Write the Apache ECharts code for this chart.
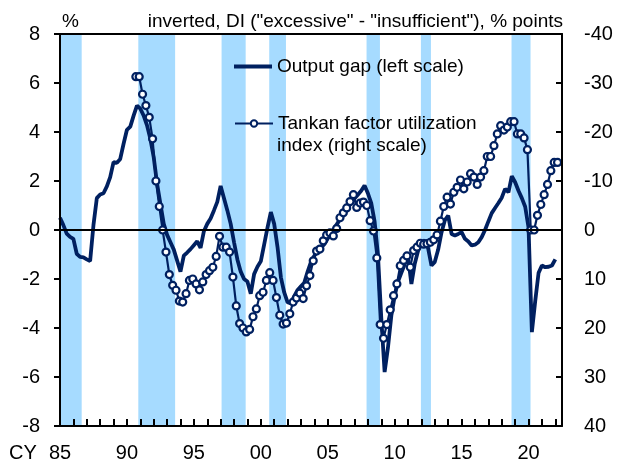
<!DOCTYPE html>
<html>
<head>
<meta charset="utf-8">
<script src="https://cdn.jsdelivr.net/npm/echarts@6/dist/echarts.min.js"></script>
<style>
  html, body { margin: 0; padding: 0; background: #fff; }
  #chart { width: 619px; height: 464px; }
</style>
</head>
<body>
<div id="chart"></div>
<script>
  // 产出缺口, 季度数据, 从 1985 Q1 开始 (%)
  var gapStart = 1985;
  var outputGap = [
    0.5, 0.2, -0.15, -0.28,
    -0.36, -0.97, -1.1, -1.12,
    -1.2, -1.27, 0.2, 1.3,
    1.45, 1.5, 1.78, 2.16,
    2.77, 2.74, 2.9, 3.52,
    4.09, 4.22, 4.67, 5.08,
    4.95, 4.67, 4.27, 3.72,
    2.97, 1.9, 1.07, 0.25,
    -0.2, -0.5, -0.8, -1.25,
    -1.7, -1.05, -0.92, -0.78,
    -0.62, -0.46, -0.73, -0.05,
    0.25, 0.47, 0.8, 1.15,
    1.8, 1.3, 0.8, 0.25,
    -0.5, -1.2, -1.7, -2.0,
    -2.1, -2.6, -1.8, -1.5,
    -1.28, -0.6, 0.1, 0.73,
    0.25, -0.7, -1.93, -2.55,
    -2.95, -3.0, -2.7, -2.45,
    -2.3, -2.15, -1.7, -1.3,
    -1.05, -0.85, -0.72, -0.58,
    -0.35, -0.12, 0.08, 0.3,
    0.48, 0.68, 0.9, 1.1,
    1.28, 1.44, 1.6, 1.82,
    1.5, 1.1, 0.35, -1.0,
    -3.6, -5.8, -4.8, -3.5,
    -2.7, -2.1, -1.75, -1.4,
    -1.1, -2.2, -1.38, -0.85,
    -0.5, -0.43, -0.75, -1.45,
    -1.3, -0.8, -0.1, 0.4,
    0.59, -0.16, -0.22, -0.16,
    -0.09, -0.36, -0.47, -0.63,
    -0.6, -0.5, -0.29, 0.0,
    0.35, 0.69, 0.9, 1.1,
    1.32, 1.68, 1.54, 2.2,
    1.95, 1.6, 1.3, 0.95,
    0.1, -4.17, -2.9, -1.75,
    -1.45, -1.52, -1.5, -1.45,
    -1.2
  ];
  // 短观 生产要素利用指数, 季度调查, 从 1990年9月 开始 (% points)
  var tankanStart = 1990 + 8 / 12;
  var tankan = [
    -31.3, -31.3,
    -27.7, -25.4, -23.0, -18.6,
    -10.0, -4.8, 0.0, 4.5,
    9.1, 11.3, 12.3, 14.5,
    14.7, 13.0, 10.3, 10.0,
    11.0, 12.2, 10.6, 9.1,
    8.3, 7.6, 5.4, 1.3,
    3.5, 3.5, 4.5, 9.6,
    15.5, 19.1, 20.0, 20.8,
    20.3, 17.7, 16.1, 13.4,
    12.7, 10.3, 8.7, 10.3,
    13.8, 17.4, 19.2, 19.0,
    17.1, 14.7, 13.9, 12.9,
    14.0, 11.4, 9.3, 6.3,
    4.3, 3.9, 2.2, 1.0,
    0.6, 1.2, -0.3, -2.5,
    -3.5, -4.5, -5.8, -7.2,
    -4.6, -5.5, -5.7, -5.0,
    -1.9, 0.2, 5.7, 19.3,
    22.1, 19.3, 16.3, 13.4,
    11.0, 7.3, 6.2, 5.3,
    7.6, 4.2, 3.5, 2.7,
    2.9, 2.8, 2.5, 2.0,
    1.0, -1.8, -4.8, -6.7,
    -5.3, -7.7, -8.7, -10.2,
    -8.4, -9.8, -11.5, -10.8,
    -9.3, -10.8, -12.1, -15.0,
    -15.0, -17.2, -19.6, -21.3,
    -20.4, -21.0, -22.1, -22.1,
    -19.6, -19.6, -18.8, -16.4,
    0.0, 0.0, -3.0, -5.2,
    -7.2, -9.3, -12.1, -13.8,
    -13.8
  ];
  // 景气衰退期 (阴影)
  var recessions = [
    [1985.0, 1986.62],
    [1990.85, 1993.6],
    [1997.07, 1998.87],
    [2000.63, 2001.88],
    [2007.9, 2008.9],
    [2011.96, 2012.71],
    [2018.73, 2020.15]
  ];
  var yearLabels = [1985, 1990, 1995, 2000, 2005, 2010, 2015, 2020];

  var navy = '#002060';
  var font = 'Liberation Sans, Arial, sans-serif';

  var gapData = outputGap.map(function (v, i) { return [gapStart + i / 4, v]; });
  var tankanData = tankan.map(function (v, i) { return [tankanStart + i / 4, v]; });
  var bandData = recessions.map(function (r) { return [{ xAxis: r[0] }, { xAxis: r[1] }]; });

  var legendText = { fontSize: 19, lineHeight: 21, color: '#000', fontFamily: font };
  var black = { color: '#000', width: 2 };
  var tickStyle = { color: '#000', width: 2 };

  var chart = echarts.init(document.getElementById('chart'));
  chart.setOption({
    animation: false,
    backgroundColor: '#fff',
    textStyle: { fontFamily: font, color: '#000' },
    grid: { left: 60, right: 57, top: 34, bottom: 38 },
    legend: [
      {
        data: ['Output gap (left scale)'],
        left: 234, top: 56, padding: 0, z: 20,
        icon: 'rect', itemWidth: 38, itemHeight: 4,
        selectedMode: false,
        textStyle: legendText
      },
      {
        data: ['Tankan factor utilization index (right scale)'],
        left: 234, top: 113, padding: 0, z: 20,
        itemWidth: 38, itemHeight: 8,
        selectedMode: false,
        formatter: function () { return 'Tankan factor utilization'; },
        textStyle: legendText
      }
    ],
    graphic: [
      { type: 'text', z: 20, x: 62, y: 22, style: { text: '%', fontSize: 19, fontFamily: font, fill: '#000', verticalAlign: 'middle' } },
      { type: 'text', z: 20, x: 563, y: 22, style: { text: 'inverted, DI ("excessive" - "insufficient"), % points', fontSize: 19, fontFamily: font, fill: '#000', align: 'right', verticalAlign: 'middle' } },
      { type: 'text', z: 20, x: 277, y: 146, style: { text: 'index (right scale)', fontSize: 19, fontFamily: font, fill: '#000', verticalAlign: 'middle' } },
      { type: 'text', z: 20, x: 9, y: 453, style: { text: 'CY', fontSize: 20, fontFamily: font, fill: '#000', verticalAlign: 'middle' } }
    ],
    xAxis: [
      {
        type: 'value', min: 1985, max: 2022.5, interval: 1, position: 'bottom', z: 5,
        axisLine: { onZero: false, lineStyle: black },
        axisTick: { show: true, inside: true, length: 7, lineStyle: tickStyle },
        axisLabel: {
          fontSize: 20, color: '#000', fontFamily: font, margin: 17,
          formatter: function (v) {
            return yearLabels.indexOf(v) >= 0 ? String(v).slice(2) : '';
          }
        },
        splitLine: { show: false }
      },
      {
        type: 'value', min: 1985, max: 2022.5, position: 'top', z: 5,
        axisLine: { onZero: false, lineStyle: black },
        axisTick: { show: false },
        axisLabel: { show: false },
        splitLine: { show: false }
      }
    ],
    yAxis: [
      {
        type: 'value', min: -8, max: 8, interval: 2, position: 'left', z: 5,
        axisLine: { show: true, onZero: false, lineStyle: black },
        axisTick: { show: true, length: 6, lineStyle: tickStyle },
        axisLabel: { fontSize: 20, color: '#000', fontFamily: font, margin: 20 },
        splitLine: { show: false }
      },
      {
        type: 'value', min: -40, max: 40, interval: 10, inverse: true, position: 'right', z: 5,
        axisLine: { show: true, onZero: false, lineStyle: black },
        axisTick: { show: true, inside: true, length: 6, lineStyle: tickStyle },
        axisLabel: { fontSize: 20, color: '#000', fontFamily: font, margin: 22 },
        splitLine: { show: false }
      }
    ],
    series: [
      {
        name: 'recession', type: 'line', data: [], z: 1, silent: true,
        markArea: { silent: true, itemStyle: { color: '#a6dbff' }, data: bandData },
        markLine: {
          silent: true, symbol: 'none', label: { show: false },
          lineStyle: { color: '#000', width: 2, type: 'solid' },
          data: [{ yAxis: 0 }]
        }
      },
      {
        name: 'Output gap (left scale)', type: 'line', yAxisIndex: 0, z: 3,
        data: gapData, symbol: 'none',
        lineStyle: { color: navy, width: 3.8 }, itemStyle: { color: navy }
      },
      {
        name: 'Tankan factor utilization index (right scale)', type: 'line', yAxisIndex: 1, z: 4,
        data: tankanData, symbol: 'circle', symbolSize: 7, showAllSymbol: true,
        lineStyle: { color: navy, width: 2.2 },
        itemStyle: { color: '#fff', borderColor: navy, borderWidth: 2.2 }
      }
    ]
  });
</script>
</body>
</html>
